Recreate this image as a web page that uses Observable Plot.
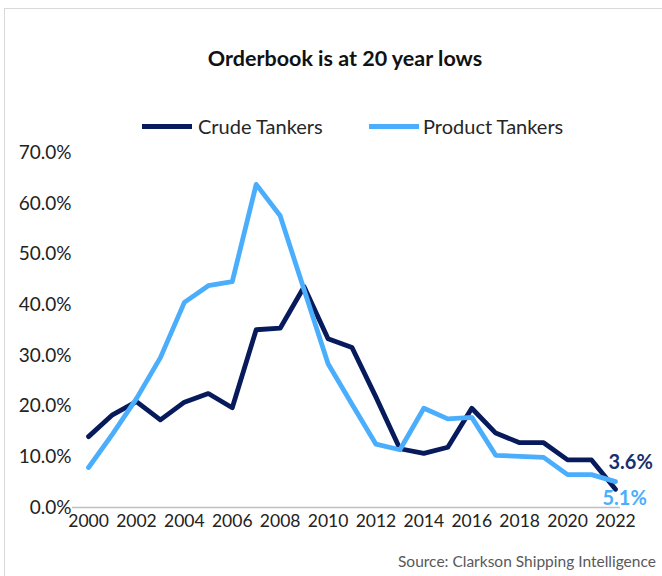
<!DOCTYPE html>
<html>
<head>
<meta charset="utf-8">
<script src="https://cdn.jsdelivr.net/npm/d3@7"></script>
<script src="https://cdn.jsdelivr.net/npm/@observablehq/plot@0.6"></script>
<style>
  html, body { margin: 0; padding: 0; background: #fff; }
  #wrap { position: relative; width: 662px; height: 576px; overflow: hidden; font-family: Lato, "Open Sans", sans-serif; }
  #frame { position: absolute; left: 4px; top: 8px; width: 720px; height: 640px; border-left: 1.5px solid #d9d9d9; border-top: 1.5px solid #d9d9d9; }
  #title { position: absolute; left: 345px; top: 45px; transform: translateX(-50%); font-weight: 700; font-size: 21.5px; color: #111; white-space: nowrap; }
  .leg { position: absolute; top: 114px; font-size: 20px; color: #262626; white-space: nowrap; line-height: 24px; }
  .sw { position: absolute; height: 5px; width: 50px; top: 124px; }
  #source { position: absolute; left: 398px; top: 552px; font-size: 15.5px; color: #595959; white-space: nowrap; }
  #chart { position: absolute; left: 0; top: 0; }
</style>
</head>
<body>
<div id="wrap">
  <div id="frame"></div>
  <div id="title">Orderbook is at 20 year lows</div>
  <div class="sw" style="left:142px;background:#071a5c"></div>
  <div class="leg" style="left:198px">Crude Tankers</div>
  <div class="sw" style="left:369px;background:#4baefc"></div>
  <div class="leg" style="left:423px">Product Tankers</div>
  <div id="chart"></div>
  <div id="source">Source: Clarkson Shipping Intelligence</div>
</div>
<script>
const years = [2000, 2001, 2002, 2003, 2004, 2005, 2006, 2007, 2008, 2009, 2010, 2011, 2012, 2013, 2014, 2015, 2016, 2017, 2018, 2019, 2020, 2021, 2022];
const crude = [14.0, 18.3, 20.9, 17.3, 20.8, 22.5, 19.7, 35.1, 35.4, 43.6, 33.3, 31.6, 21.8, 11.6, 10.7, 11.9, 19.6, 14.7, 12.8, 12.8, 9.4, 9.4, 3.6];
const product = [7.9, 14.5, 21.5, 29.6, 40.5, 43.8, 44.6, 63.8, 57.6, 43.0, 28.4, 20.4, 12.5, 11.4, 19.6, 17.5, 17.8, 10.3, 10.1, 9.9, 6.5, 6.5, 5.1];
const yTicks = [0, 10, 20, 30, 40, 50, 60, 70];
const xTicks = [2000, 2002, 2004, 2006, 2008, 2010, 2012, 2014, 2016, 2018, 2020, 2022];
const seriesNames = ["Crude Tankers", "Product Tankers"];
const colors = ["#071a5c", "#4baefc"];

const crudeData = years.map((y, i) => ({year: y, value: crude[i]}));
const productData = years.map((y, i) => ({year: y, value: product[i]}));
const lastCrude = [crudeData[crudeData.length - 1]];
const lastProduct = [productData[productData.length - 1]];

const chart = Plot.plot({
  width: 662,
  height: 576,
  marginTop: 152.5,
  marginBottom: 69,
  marginLeft: 72,
  marginRight: 42,
  style: {fontFamily: "Lato, sans-serif", fontSize: "19px", color: "#222", background: "transparent"},
  x: {domain: [1999.33, 2022.21], label: null},
  y: {domain: [0, 70], label: null},
  marks: [
    Plot.ruleY([0], {stroke: "#bfbfbf", strokeWidth: 1.5}),
    Plot.axisY({ticks: yTicks, tickSize: 0, tickPadding: 1, tickFormat: d => d.toFixed(1) + "%", fontSize: 19, label: null}),
    Plot.axisX({ticks: xTicks, tickSize: 0, tickPadding: 7, tickFormat: d => String(d), fontSize: 17.5, label: null}),
    Plot.line(crudeData, {x: "year", y: "value", stroke: colors[0], strokeWidth: 4.8, strokeLinejoin: "round"}),
    Plot.line(productData, {x: "year", y: "value", stroke: colors[1], strokeWidth: 4.8, strokeLinejoin: "round"}),
    Plot.text(lastCrude, {x: "year", y: "value", text: d => d.value.toFixed(1) + "%", fill: "#172f6e", fontWeight: 700, fontSize: 20, textAnchor: "start", dx: -7, dy: -27}),
    Plot.text(lastProduct, {x: "year", y: "value", text: d => d.value.toFixed(1) + "%", fill: colors[1], fontWeight: 700, fontSize: 20, textAnchor: "start", dx: -13, dy: 17})
  ]
});
document.getElementById("chart").appendChild(chart);
</script>
</body>
</html>
